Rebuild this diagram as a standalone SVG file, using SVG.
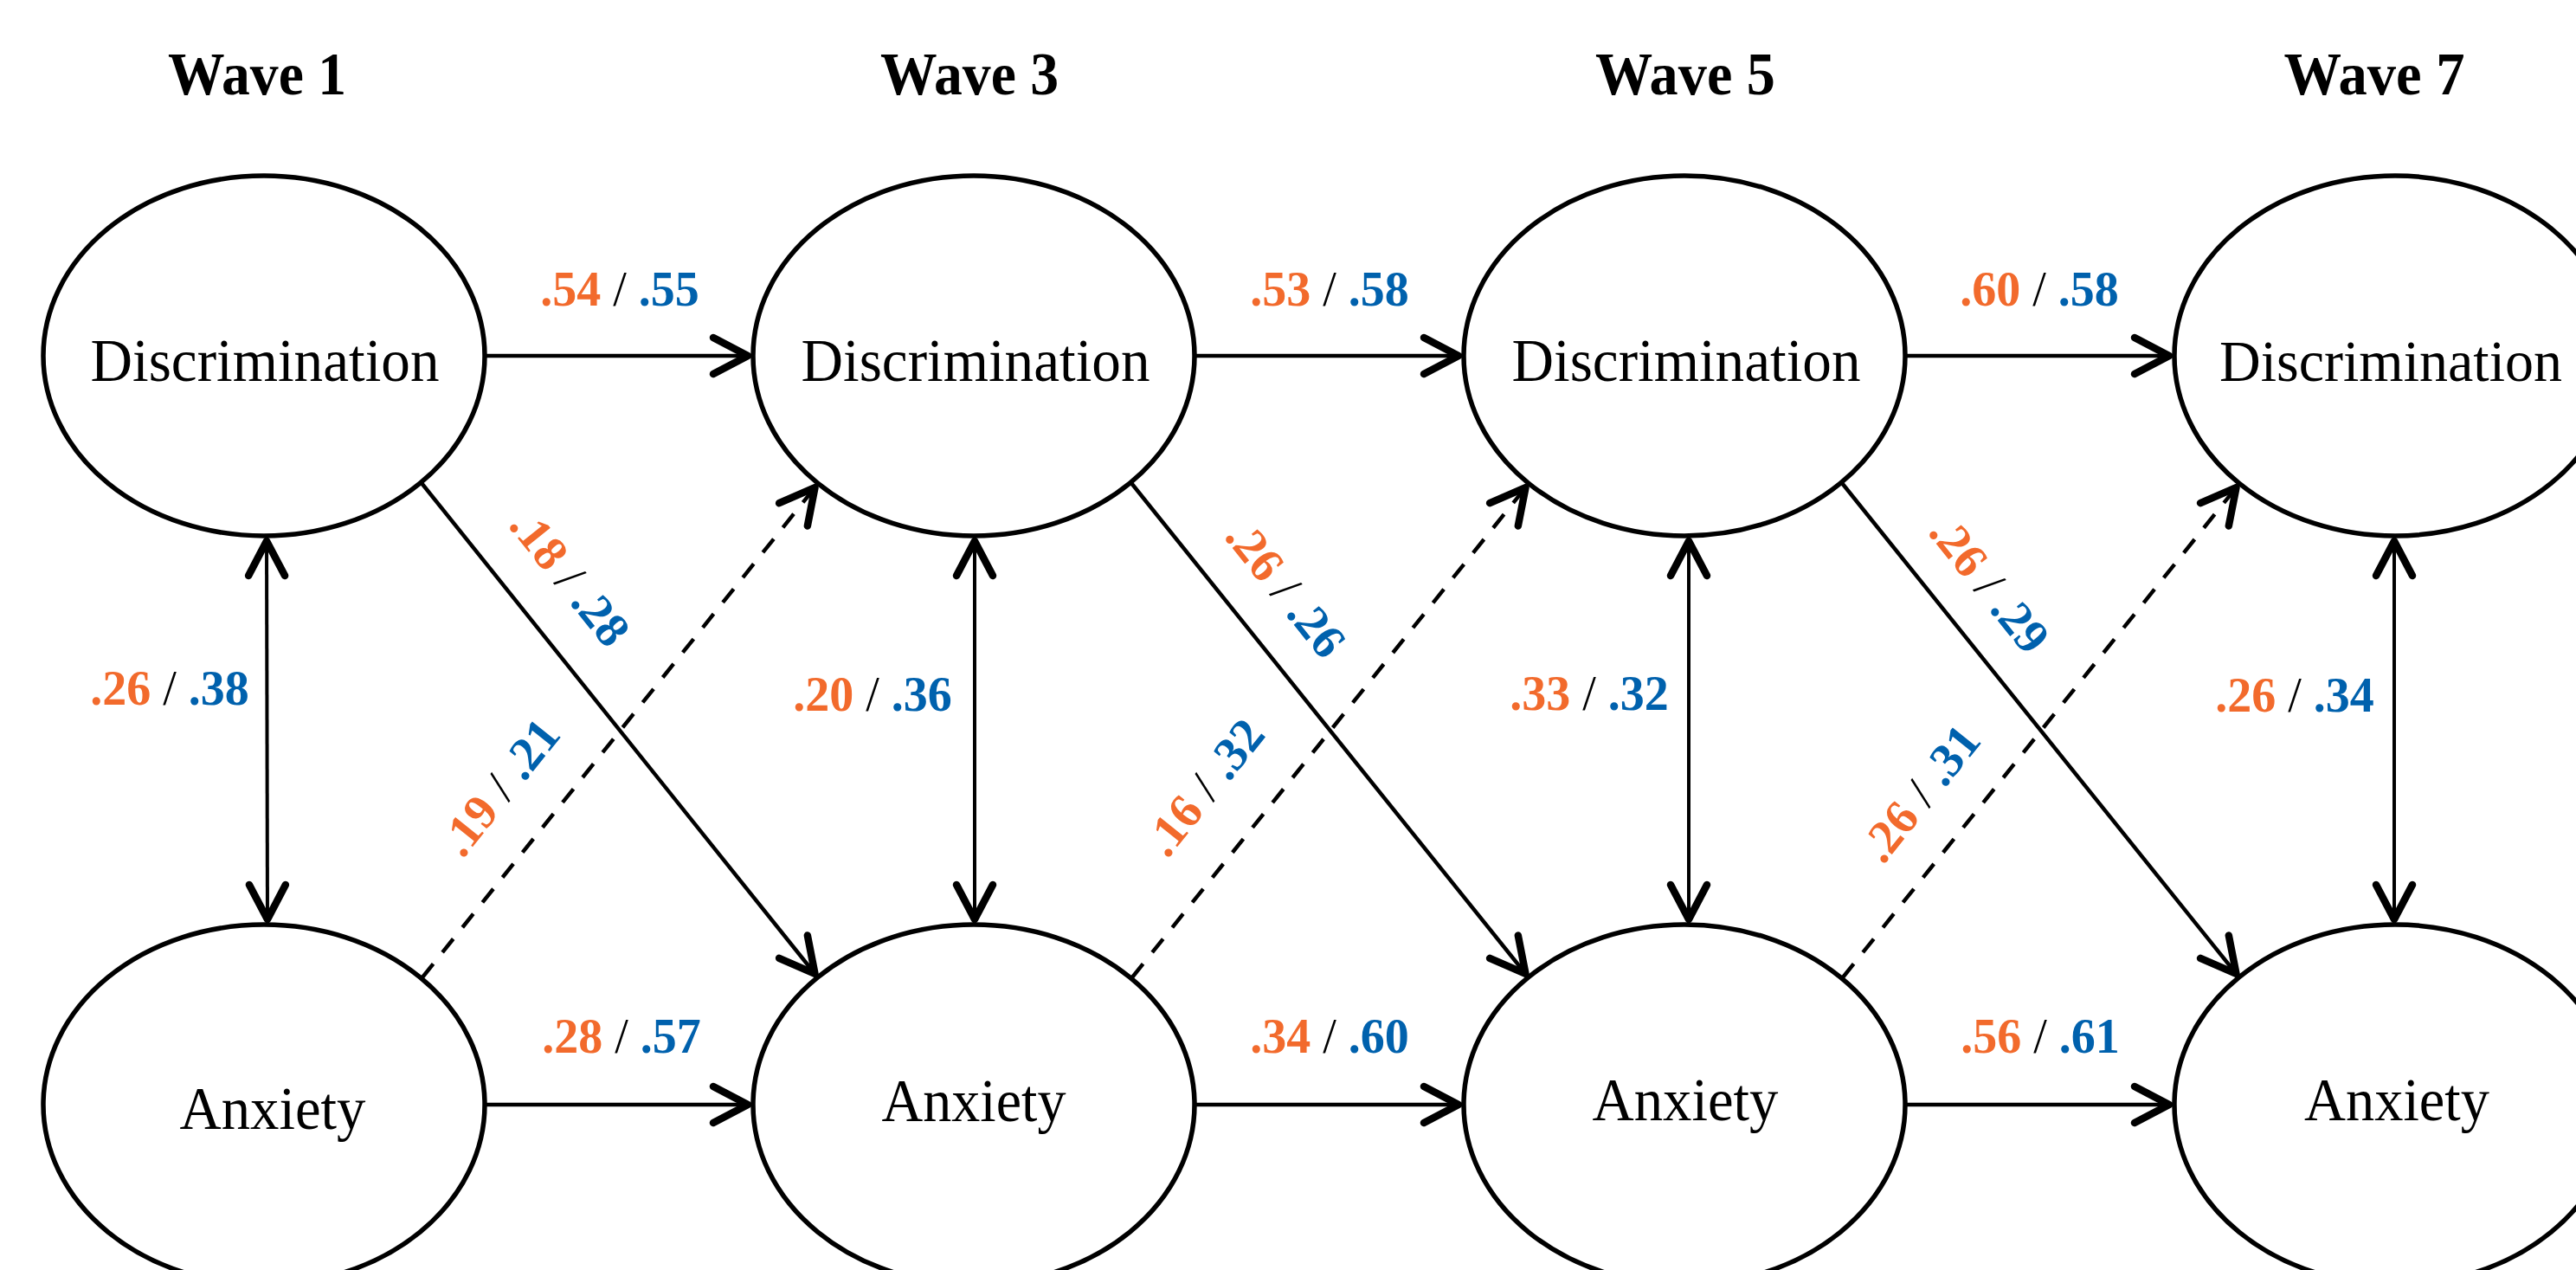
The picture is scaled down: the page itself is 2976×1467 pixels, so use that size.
<svg xmlns="http://www.w3.org/2000/svg" width="2976" height="1467" viewBox="0 0 2976 1467">
<style>
.node{fill:#fff;stroke:#000;stroke-width:5.5}
.lbl{font-family:"Liberation Serif","Times New Roman",serif;font-size:70px;fill:#000;text-anchor:middle}
.title{font-family:"Liberation Serif","Times New Roman",serif;font-size:70px;font-weight:bold;fill:#000;text-anchor:middle}
.coef{font-family:"Liberation Serif","Times New Roman",serif;font-size:56px;font-weight:bold;text-anchor:middle}
.o{fill:#F26A2C}
.b{fill:#0061AD}
.s{fill:#000;font-weight:normal}
.conn{fill:none;stroke:#000;stroke-width:4.5}
.v{stroke-width:4}
.dash{stroke-dasharray:20 17}
</style>
<defs>
<marker id="arr" markerUnits="userSpaceOnUse" viewBox="-60 -35 70 70" markerWidth="70" markerHeight="70" refX="0" refY="0" orient="auto-start-reverse">
<path d="M-44,-21 L-4,0 L-44,21" fill="none" stroke="#000" stroke-width="8.5" stroke-linecap="round" stroke-linejoin="round" stroke-dasharray="none"/>
</marker>
</defs>
<g id="titles">
<text class="title" x="297" y="109" textLength="206" lengthAdjust="spacingAndGlyphs">Wave 1</text>
<text class="title" x="1120" y="109" textLength="206" lengthAdjust="spacingAndGlyphs">Wave 3</text>
<text class="title" x="1947" y="109" textLength="208" lengthAdjust="spacingAndGlyphs">Wave 5</text>
<text class="title" x="2743" y="109" textLength="209" lengthAdjust="spacingAndGlyphs">Wave 7</text>
</g>
<g id="connectors">
<line class="conn" x1="560" y1="411" x2="868" y2="411" marker-end="url(#arr)"/>
<line class="conn" x1="1380" y1="411" x2="1689" y2="411" marker-end="url(#arr)"/>
<line class="conn" x1="2201" y1="411" x2="2510" y2="411" marker-end="url(#arr)"/>
<line class="conn" x1="560" y1="1276" x2="868" y2="1276" marker-end="url(#arr)"/>
<line class="conn" x1="1380" y1="1276" x2="1689" y2="1276" marker-end="url(#arr)"/>
<line class="conn" x1="2201" y1="1276" x2="2510" y2="1276" marker-end="url(#arr)"/>
<line class="conn v" x1="308" y1="621" x2="309" y2="1066" marker-start="url(#arr)" marker-end="url(#arr)"/>
<line class="conn v" x1="1126" y1="621" x2="1126" y2="1066" marker-start="url(#arr)" marker-end="url(#arr)"/>
<line class="conn v" x1="1951" y1="621" x2="1951" y2="1066" marker-start="url(#arr)" marker-end="url(#arr)"/>
<line class="conn v" x1="2766" y1="621" x2="2766" y2="1066" marker-start="url(#arr)" marker-end="url(#arr)"/>
<line class="conn" x1="487" y1="558" x2="944" y2="1128" marker-end="url(#arr)"/>
<line class="conn" x1="1307" y1="558" x2="1765" y2="1128" marker-end="url(#arr)"/>
<line class="conn" x1="2128" y1="558" x2="2586" y2="1128" marker-end="url(#arr)"/>
<line class="conn dash" x1="488" y1="1129" x2="944" y2="560" marker-end="url(#arr)"/>
<line class="conn dash" x1="1308" y1="1129" x2="1765" y2="560" marker-end="url(#arr)"/>
<line class="conn dash" x1="2129" y1="1129" x2="2586" y2="560" marker-end="url(#arr)"/>
</g>
<g id="coefficients">
<text class="coef" x="716" y="353"><tspan class="o">.54</tspan><tspan class="s"> / </tspan><tspan class="b">.55</tspan></text>
<text class="coef" x="1536" y="353"><tspan class="o">.53</tspan><tspan class="s"> / </tspan><tspan class="b">.58</tspan></text>
<text class="coef" x="2356" y="353"><tspan class="o">.60</tspan><tspan class="s"> / </tspan><tspan class="b">.58</tspan></text>
<text class="coef" x="718" y="1216"><tspan class="o">.28</tspan><tspan class="s"> / </tspan><tspan class="b">.57</tspan></text>
<text class="coef" x="1536" y="1216"><tspan class="o">.34</tspan><tspan class="s"> / </tspan><tspan class="b">.60</tspan></text>
<text class="coef" x="2357" y="1216"><tspan class="o">.56</tspan><tspan class="s"> / </tspan><tspan class="b">.61</tspan></text>
<text class="coef" x="196" y="814"><tspan class="o">.26</tspan><tspan class="s"> / </tspan><tspan class="b">.38</tspan></text>
<text class="coef" x="1008" y="821"><tspan class="o">.20</tspan><tspan class="s"> / </tspan><tspan class="b">.36</tspan></text>
<text class="coef" x="1836" y="820"><tspan class="o">.33</tspan><tspan class="s"> / </tspan><tspan class="b">.32</tspan></text>
<text class="coef" x="2651" y="822"><tspan class="o">.26</tspan><tspan class="s"> / </tspan><tspan class="b">.34</tspan></text>
<text class="coef" transform="translate(644,679) rotate(51.3)"><tspan class="o">.18</tspan><tspan class="s"> / </tspan><tspan class="b">.28</tspan></text>
<text class="coef" transform="translate(1471,692) rotate(51.3)"><tspan class="o">.26</tspan><tspan class="s"> / </tspan><tspan class="b">.26</tspan></text>
<text class="coef" transform="translate(2284,687) rotate(51.3)"><tspan class="o">.26</tspan><tspan class="s"> / </tspan><tspan class="b">.29</tspan></text>
<text class="coef" transform="translate(592,921) rotate(-51.3)"><tspan class="o">.19</tspan><tspan class="s"> / </tspan><tspan class="b">.21</tspan></text>
<text class="coef" transform="translate(1406,921) rotate(-51.3)"><tspan class="o">.16</tspan><tspan class="s"> / </tspan><tspan class="b">.32</tspan></text>
<text class="coef" transform="translate(2233,928) rotate(-51.3)"><tspan class="o">.26</tspan><tspan class="s"> / </tspan><tspan class="b">.31</tspan></text>
</g>
<g id="disc1"><ellipse class="node" cx="305" cy="411" rx="255" ry="208"/><text class="lbl" x="306" y="440" textLength="403" lengthAdjust="spacingAndGlyphs">Discrimination</text></g>
<g id="disc3"><ellipse class="node" cx="1125" cy="411" rx="255" ry="208"/><text class="lbl" x="1127" y="440" textLength="403" lengthAdjust="spacingAndGlyphs">Discrimination</text></g>
<g id="disc5"><ellipse class="node" cx="1946" cy="411" rx="255" ry="208"/><text class="lbl" x="1948" y="440" textLength="403" lengthAdjust="spacingAndGlyphs">Discrimination</text></g>
<g id="disc7"><ellipse class="node" cx="2767" cy="411" rx="255" ry="208"/><text class="lbl" x="2762" y="440" style="font-size:67px" textLength="396" lengthAdjust="spacingAndGlyphs">Discrimination</text></g>
<g id="anx1"><ellipse class="node" cx="305" cy="1276" rx="255" ry="208"/><text class="lbl" x="315" y="1304" textLength="215" lengthAdjust="spacingAndGlyphs">Anxiety</text></g>
<g id="anx3"><ellipse class="node" cx="1125" cy="1276" rx="255" ry="208"/><text class="lbl" x="1125" y="1295" textLength="213" lengthAdjust="spacingAndGlyphs">Anxiety</text></g>
<g id="anx5"><ellipse class="node" cx="1946" cy="1276" rx="255" ry="208"/><text class="lbl" x="1947" y="1294" textLength="215" lengthAdjust="spacingAndGlyphs">Anxiety</text></g>
<g id="anx7"><ellipse class="node" cx="2767" cy="1276" rx="255" ry="208"/><text class="lbl" x="2769" y="1294" textLength="214" lengthAdjust="spacingAndGlyphs">Anxiety</text></g>
</svg>
